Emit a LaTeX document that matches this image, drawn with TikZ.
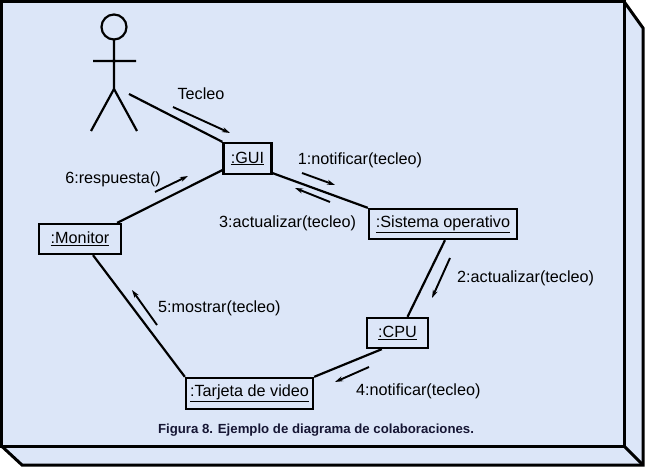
\documentclass[tikz,border=0pt]{standalone}
\usepackage{fontspec}
\setmainfont{Liberation Sans}
\definecolor{main}{RGB}{220,230,248}
\definecolor{second}{RGB}{22,22,52}
\usepackage{tikz}
\usetikzlibrary{
	arrows.meta,
	positioning,
	calc
}
\tikzset{
  % frame
	cstframe/.style       ={draw=black,line width=3pt,fill=main,line join=miter},
  % arrow
	cstmra/.style         ={-{Stealth[length=8pt,width=5pt]}, line width=1.9pt}, %消息箭头
  % curve
	cstcurve/.style       ={line width=2.2pt}, %连线
  % node
	cstobj/.style         ={draw=black,line width=2.3pt,inner sep=0pt,font=\fontsize{16.2}{19}\selectfont},
	cstmsg/.style         ={inner sep=0pt,font=\fontsize{16.2}{19}\selectfont},
	cstcapt/.style        ={inner sep=0pt,text=second,font=\fontsize{13.2}{15}\selectfont\bfseries}
}

\begin{document}
\begin{tikzpicture}[x=1pt,y=-1pt]
			\useasboundingbox (0,0) rectangle (646,468);
			\filldraw[cstframe] (624,1.5) -- (643,28) -- (643,465) -- (22,465) -- (1.5,446) -- (624,446) -- cycle;
			\filldraw[cstframe] (1.5,1.5) rectangle (624,446);
			\draw[cstframe] (624,446) -- (643,465);
			% actor
			\draw[cstcurve] (114,27) circle (12.5);
			\draw[cstcurve] (114,39.5) -- (114,89) (93,61) -- (136,61) (91,131) -- (114,89) -- (137,131);
			\coordinate (actor) at (129,94);
			% objects
			\node[cstobj,minimum width=48pt,minimum height=31pt] (gui) at (247.5,158.5) {\underline{:GUI}};
			\node[cstobj,minimum width=148pt,minimum height=30pt] (so) at (443,224) {\underline{:Sistema operativo}};
			\node[cstobj,minimum width=61pt,minimum height=30pt] (cpu) at (397.5,333) {\underline{:CPU}};
			\node[cstobj,minimum width=127pt,minimum height=31pt] (video) at (249.5,393.5) {\underline{:Tarjeta de video}};
			\node[cstobj,minimum width=82pt,minimum height=30pt] (monitor) at (80,239) {\underline{:Monitor}};
			% links
			\draw[cstcurve] (actor) -- (gui.north west);
			\draw[cstcurve] ([yshift=2pt]gui.south east) -- (so.north west);
			\draw[cstcurve] ([xshift=2pt]so.south) -- ([xshift=10pt]cpu.north);
			\draw[cstcurve] ([xshift=16pt]cpu.south west) -- (video.north east);
			\draw[cstcurve] (video.north west) -- ([xshift=13pt]monitor.south);
			\draw[cstcurve] ([xshift=-5pt]monitor.north east) -- ([yshift=5pt]gui.south west);
			% messages
			\draw[cstmra] (173,107) -- (230,133);
			\node[cstmsg] (m0) at (201,94) {Tecleo};
			\draw[cstmra] (302,173) -- (335,185);
			\node[cstmsg] (m1) at (360,160) {1:notificar(tecleo)};
			\draw[cstmra] (450,258) -- (432,298);
			\node[cstmsg,anchor=west] (m2) at (457,278) {2:actualizar(tecleo)};
			\draw[cstmra] (330,202) -- (295,188);
			\node[cstmsg,anchor=west] (m3) at (219,223) {3:actualizar(tecleo)};
			\draw[cstmra] (369,367) -- (335,382);
			\node[cstmsg,anchor=west] (m4) at (356,391) {4:notificar(tecleo)};
			\draw[cstmra] (157,325) -- (132,290);
			\node[cstmsg,anchor=west] (m5) at (158,308) {5:mostrar(tecleo)};
			\draw[cstmra] (155,192) -- (188,176);
			\node[cstmsg] (m6) at (113,179) {6:respuesta()};
			% caption
			\node[cstcapt] (capt) at (316,430) {Figura 8. Ejemplo de diagrama de colaboraciones.};
		\end{tikzpicture}
\end{document}
